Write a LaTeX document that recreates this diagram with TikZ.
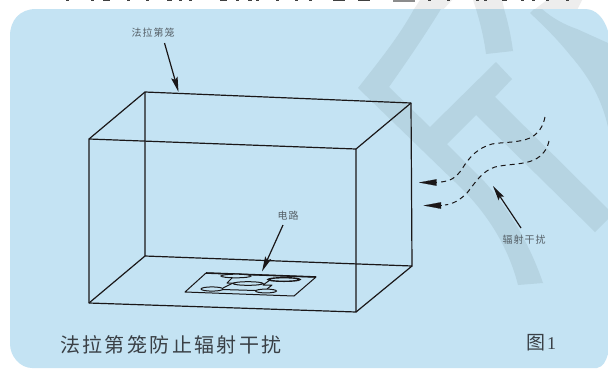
\documentclass[tikz,border=0pt]{standalone}
\usepackage{fontspec}
\usetikzlibrary{arrows.meta}
\newfontfamily\cjk{Noto Sans CJK SC}
\setmainfont{Liberation Serif}
\definecolor{panelblue}{HTML}{C4E3F3}
\definecolor{markblue}{HTML}{B6D4E2}
\definecolor{markgray}{HTML}{EDEDED}
\definecolor{labelgray}{HTML}{555F66}
\definecolor{capgray}{HTML}{3A4046}
\definecolor{inkdark}{HTML}{1A1718}
\tikzset{
  x=1pt,y=-1pt,
  wire/.style={draw=inkdark,line width=1.2pt,line join=round},
  pcb/.style={draw=inkdark,line width=1pt,line join=round},
  pad/.style={draw=inkdark,line width=1pt,fill=panelblue},
  pointer/.style={draw=inkdark,line width=1.2pt,-{Stealth[length=15pt,width=6.5pt,inset=2.5pt]}},
  wave/.style={draw=inkdark,line width=1pt,dash pattern=on 5pt off 4pt},
  wavehead/.style={draw=inkdark,line width=0.1pt,-{Triangle[length=17.5pt,width=6.5pt]}},
  smalllabel/.style={font=\cjk\fontsize{10}{11}\selectfont,text=labelgray,inner sep=0pt},
  caption/.style={font=\cjk\fontsize{20}{22}\selectfont,text=capgray,inner sep=0pt},
  topmark/.style={draw=black!75,line width=1.3pt},
}
\begin{document}
\begin{tikzpicture}
\useasboundingbox (0,0) rectangle (608,368);
\fill[white] (0,0) rectangle (608,368);
% light watermark above the panel
\fill[markgray] (411,14) -- (420,0) -- (452,0) -- (441,12) -- cycle;
\fill[markgray] (473,0) -- (502,0) -- (505,12) -- (477,12) -- cycle;
\fill[markgray] (530,13) -- (547,0) -- (582,0) -- (576,12) -- cycle;
% panel
\fill[panelblue] (32,368) -- (597,368) .. controls (603,367) and (606,361) .. (608,354) -- (608,31) .. controls (604,18) and (596,9) .. (585,9) -- (36,9) .. controls (20,9) and (10,20) .. (10,36) -- (10,344) .. controls (10,356) and (20,368) .. (32,368) -- cycle;
% watermark strokes in the panel
\begin{scope}
\clip (0,9) rectangle (608,368);
\fill[markblue] (414,9) -- (441,9) .. controls (425,35) and (408,60) .. (389,87) -- (430,127) -- (496,62) -- (512,79) -- (495,97) -- (613,214) -- (595,232) -- (476,115) -- (447,144) -- (483,180) .. controls (510,210) and (530,245) .. (543,283) -- (518,285) .. controls (508,245) and (485,210) .. (455,182) -- (358,88) .. controls (380,60) and (400,35) .. (414,9) -- cycle;
\fill[markblue] (476,9) -- (504,9) .. controls (508,22) and (511,36) .. (513,51) -- (486,54) .. controls (484,38) and (480,22) .. (476,9) -- cycle;
\fill[markblue] (530,13) -- (534,9) -- (542,9) .. controls (552,18) and (565,25) .. (577,29) -- (608,43) -- (608,127) .. controls (602,100) and (590,78) .. (570,55) .. controls (558,40) and (545,27) .. (530,13) -- cycle;
\end{scope}
% cut-off title line above the panel
\foreach \a/\b in {66/69,91/94,103/110,127/130,146/149,167/172,179/182,189/192,220/227,236/239,248/252,256/259,276/279,295/298,309/312,333/345,358/370,428/431,447/450,476/479,484/487,502/507,521/524,532/535,546/549,566/569}
  \draw[topmark] (\a,0) -- (\b,0);
\draw[draw=black!45,line width=3.6pt] (393,0) -- (415,0);
% cage
\coordinate (bTL) at (145,92);
\coordinate (bTR) at (411,103);
\coordinate (bBL) at (145,256);
\coordinate (bBR) at (412,266);
\coordinate (fTL) at (89,139);
\coordinate (fTR) at (356,149);
\coordinate (fBL) at (89,303);
\coordinate (fBR) at (356,312);
\draw[wire] (bTL) -- (bTR) -- (bBR) -- (bBL) -- cycle;
\draw[wire] (fTL) -- (fTR) -- (fBR) -- (fBL) -- cycle;
\draw[wire] (bTL) -- (fTL) (bTR) -- (fTR) (bBL) -- (fBL) (bBR) -- (fBR);
% circuit board
\coordinate (p1) at (185,292);
\coordinate (p2) at (206,273);
\coordinate (p3) at (316,277);
\coordinate (p4) at (294,296);
\draw[pcb] (p1) -- (p2) -- (p3) -- (p4) -- cycle;
\draw[pcb,line width=1.6pt] (p2) -- (p3);
\draw[pcb] (233,277) -- (227,283) -- (234,283);
\draw[pcb] (223,288) -- (232,283.5);
\draw[pcb] (222,289.5) -- (256,290.5);
\draw[pcb] (270,280) -- (263,285) -- (272,285) -- (267,289);
\draw[pad] (236,276) ellipse [x radius=15,y radius=1.8];
\draw[pad,line width=1.4pt] (284,279.5) ellipse [x radius=16,y radius=1.8];
\draw[pad] (248,283.5) ellipse [x radius=15,y radius=1.8];
\draw[pad] (212,289) ellipse [x radius=11,y radius=2.1];
\draw[pad] (266,291) ellipse [x radius=10.5,y radius=1.9];
% pointers and labels
\node[smalllabel] (cagelabel) at (153,33) {法\hspace{1pt}拉\hspace{1pt}第\hspace{1pt}笼};
\coordinate (cagefrom) at (164.5,43);
\coordinate (cageto) at (178.5,92);
\draw[pointer] (cagefrom) -- (cageto);
\node[smalllabel] (circuitlabel) at (288,216) {电\hspace{1pt}路};
\coordinate (circuitfrom) at (283,225);
\coordinate (circuitto) at (262,271.5);
\draw[pointer] (circuitfrom) -- (circuitto);
\node[smalllabel] (noiselabel) at (524,240) {辐\hspace{1pt}射\hspace{1pt}干\hspace{1pt}扰};
\coordinate (noisefrom) at (521,228);
\coordinate (noiseto) at (493,186);
\draw[pointer] (noisefrom) -- (noiseto);
% radiation
\draw[wave] (545,117) .. controls (543,127) and (538,134) .. (530,138) .. controls (518,143) and (503,142) .. (492,144) .. controls (478,148) and (470,156) .. (462,169) .. controls (456,178) and (450,181) .. (441,182);
\coordinate (w1from) at (436.5,182.5);
\coordinate (w1to) at (419,182.5);
\draw[wavehead] (w1from) -- (w1to);
\draw[wave] (549,141) .. controls (547,150) and (542,156) .. (534,160) .. controls (522,165) and (507,164) .. (495,167) .. controls (482,171) and (475,183) .. (467,193) .. controls (460,200) and (453,204) .. (445,205);
\coordinate (w2from) at (441,205.5);
\coordinate (w2to) at (423.5,205.5);
\draw[wavehead] (w2from) -- (w2to);
% captions
\node[caption,anchor=west] (title) at (60,345) {\addfontfeature{LetterSpace=12}法拉第笼防止辐射干扰};
\node[caption,anchor=west,font=\cjk\fontsize{19}{20}\selectfont] (figcjk) at (526,343) {图};
\node[anchor=west,inner sep=0pt,text=capgray,font=\fontsize{18}{19}\selectfont] (fignum) at (547,344) {1};
\end{tikzpicture}
\end{document}
